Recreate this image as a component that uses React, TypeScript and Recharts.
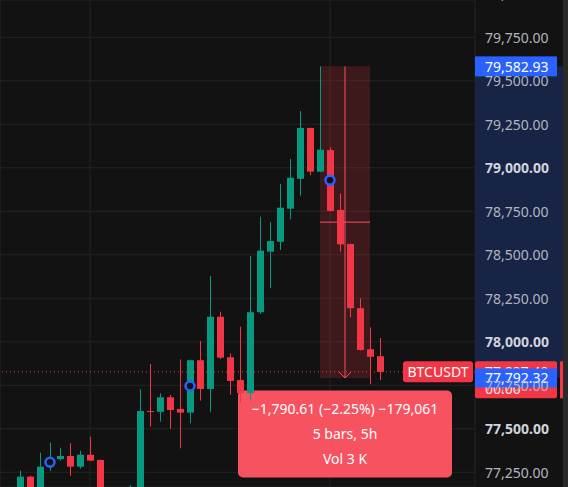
import React from 'react';
import {
  ComposedChart,
  Bar,
  XAxis,
  YAxis,
  CartesianGrid,
  ReferenceLine,
  ReferenceArea,
  ReferenceDot,
} from 'recharts';

// ---------- data ----------
const OPEN = [
  77120, 77225, 77115, 77310, 77326, 77344, 77282, 77351, 77321, 77110,
  77140, 77100, 77150, 77602, 77598, 77681, 77614, 77593, 77894, 77729,
  78144, 77911, 77780, 77705, 78170, 78518, 78575, 78765, 78937, 79229,
  78978, 79102, 78758, 78562, 78193, 77957, 77917,
];
const HIGH = [
  77259, 77230, 77363, 77420, 77391, 77417, 77374, 77455, 77323, 77158,
  77160, 77177, 77727, 77872, 77704, 77694, 77899, 77895, 78005, 78378,
  78173, 77933, 78087, 78493, 78719, 78687, 78907, 79051, 79326, 79231,
  79582.93, 79118, 78853, 78565, 78250, 78083, 78022,
];
const LOW = [
  77070, 77060, 77090, 77258, 77317, 77230, 77271, 77315, 77080, 77040,
  77050, 77080, 77120, 77512, 77541, 77499, 77388, 77532, 77662, 77598,
  77901, 77696, 77650, 77660, 78160, 78308, 78528, 78704, 78840, 78957,
  78975, 78750, 78518, 78141, 77949, 77756, 77780,
];
const CLOSE = [
  77225, 77110, 77282, 77318, 77344, 77282, 77351, 77317, 77120, 77140,
  77100, 77150, 77602, 77598, 77681, 77608, 77593, 77894, 77729, 78144,
  77909, 77775, 77705, 78170, 78524, 78579, 78771, 78943, 79229, 78978,
  79104, 78752, 78560, 78193, 77953, 77914, 77827.4,
];

const PRICE_TICKS = [
  77250, 77500, 77750, 78000, 78250, 78500, 78750, 79000, 79250, 79500, 79750, 80000,
];
const BOLD_TICKS = [77500, 78000, 79000];
const DAY_TICKS = [7, 31];

const MARKER_X = [3, 17, 31];
const MARKER_Y = [77307.5, 77746, 78928];

const MEASURE_FROM = 30;
const MEASURE_TO = 35;
const MEASURE_START = 79582.93;
const MEASURE_END = 77792.32;
const MEASURE_LINES = ['\u22121,790.61 (\u22122.25%) \u2212179,061', '5 bars, 5h', 'Vol 3 K'];

const LAST_PRICE = 77827.4;
const SYMBOL = 'BTCUSDT';
const COUNTDOWN = '00:00';

const X_DOMAIN: [number, number] = [-2, 45.5];
const Y_DOMAIN: [number, number] = [77165.5, 79964.4];

// ---------- style ----------
const BG = '#121212';
const GRID = '#242424';
const UP = '#089981';
const DOWN = '#f23645';
const BLUE = '#2962ff';
const TIP = '#f7525f';
const FONT = '"Noto Sans", Roboto, sans-serif';
const W = 568;
const H = 487;
const AXIS_W = 93;

const data = OPEN.map((o, i) => ({
  i,
  open: o,
  high: HIGH[i],
  low: LOW[i],
  close: CLOSE[i],
  range: [LOW[i], HIGH[i]],
}));

const fmt = (v: number) =>
  v.toLocaleString('en-US', { minimumFractionDigits: 2, maximumFractionDigits: 2 });

const Candle = (props: any) => {
  const { x, y, width, height, payload } = props;
  if (!payload) return null;
  const top = height >= 0 ? y : y + height;
  const h = Math.abs(height);
  const span = payload.high - payload.low;
  const k = span > 0 ? h / span : 0;
  const py = (v: number) => top + (payload.high - v) * k;
  const color = payload.close >= payload.open ? UP : DOWN;
  const cx = x + width / 2;
  const b1 = py(Math.max(payload.open, payload.close));
  const b2 = py(Math.min(payload.open, payload.close));
  return (
    <g>
      <line x1={cx} x2={cx} y1={top} y2={top + h} stroke={color} strokeWidth={1} />
      <rect x={x} y={b1} width={width} height={Math.max(b2 - b1, 1)} fill={color} />
    </g>
  );
};

const PriceTick = (props: any) => {
  const { x, y, payload } = props;
  const bold = BOLD_TICKS.includes(payload.value);
  return (
    <text
      x={x}
      y={y}
      textAnchor="start"
      dominantBaseline="central"
      fontFamily={FONT}
      fontSize={14}
      fontWeight={bold ? 700 : 400}
      fill={bold ? '#d1d4dc' : '#b2b5be'}
    >
      {fmt(payload.value)}
    </text>
  );
};

const AxisBand = (props: any) => {
  const { x, y, width, height } = props;
  return <rect x={x + width} y={y} width={AXIS_W - 5} height={height} fill="#172446" />;
};

const BlueTag = (value: number, h: number) => (props: any) => {
  const { viewBox } = props;
  const right = viewBox.x + viewBox.width;
  const y = viewBox.y;
  return (
    <g>
      <rect x={right} y={y - h / 2} width={82} height={h} fill={BLUE} />
      <text
        x={right + 10}
        y={y}
        dominantBaseline="central"
        fontFamily={FONT}
        fontSize={14}
        fill="#ffffff"
      >
        {fmt(value)}
      </text>
    </g>
  );
};

const LastTag = (props: any) => {
  const { viewBox } = props;
  const right = viewBox.x + viewBox.width;
  const y = viewBox.y;
  return (
    <g>
      <rect x={right - 72} y={y - 10.5} width={70} height={21} rx={3} fill={DOWN} />
      <text
        x={right - 37}
        y={y}
        textAnchor="middle"
        dominantBaseline="central"
        fontFamily={FONT}
        fontSize={14}
        fill="#ffffff"
      >
        {SYMBOL}
      </text>
      <rect x={right} y={y - 10.5} width={82} height={37} rx={2} fill={DOWN} />
      <text x={right + 10} y={y} dominantBaseline="central" fontFamily={FONT} fontSize={14} fill="#ffffff">
        {fmt(LAST_PRICE)}
      </text>
      <text x={right + 10} y={y + 17} dominantBaseline="central" fontFamily={FONT} fontSize={14} fill="#ffe4e6">
        {COUNTDOWN}
      </text>
      <rect x={right + 85} y={y - 10.5} width={3} height={37} fill={DOWN} />
    </g>
  );
};

const MeasureOverlay = (props: any) => {
  const { viewBox } = props;
  const { x, y, width, height } = viewBox;
  const cx = x + width / 2;
  const bottom = y + height;
  const mid = y + height / 2;
  const tipW = 214;
  const tipH = 87;
  const tipY = bottom + 12.5;
  return (
    <g>
      <line x1={cx} x2={cx} y1={y} y2={bottom} stroke={TIP} strokeWidth={1} />
      <line x1={x} x2={x + width} y1={mid} y2={mid} stroke={TIP} strokeWidth={1} />
      <polyline
        points={`${cx - 6},${bottom - 6} ${cx},${bottom} ${cx + 6},${bottom - 6}`}
        fill="none"
        stroke={TIP}
        strokeWidth={1}
      />
      <rect x={cx - tipW / 2} y={tipY} width={tipW} height={tipH} rx={5} fill={TIP} />
      {MEASURE_LINES.map((t, k) => (
        <text
          key={k}
          x={cx}
          y={tipY + 18.5 + k * 25}
          textAnchor="middle"
          dominantBaseline="central"
          fontFamily={FONT}
          fontSize={14}
          fill="#ffffff"
        >
          {t}
        </text>
      ))}
    </g>
  );
};

export default function App() {
  return (
    <div style={{ position: 'absolute', left: 0, top: 0, width: W, height: H, background: BG, overflow: 'hidden' }}>
      <ComposedChart width={W} height={H} data={data} margin={{ top: 0, right: 0, bottom: 0, left: 0 }}>
        <CartesianGrid stroke={GRID} strokeWidth={1} />
        <XAxis dataKey="i" type="number" domain={X_DOMAIN} ticks={DAY_TICKS} allowDataOverflow hide />
        <ReferenceArea
          y1={MEASURE_END}
          y2={MEASURE_START}
          shape={AxisBand}
          ifOverflow="visible"
        />
        <YAxis
          orientation="right"
          width={AXIS_W}
          domain={Y_DOMAIN}
          ticks={PRICE_TICKS}
          interval={0}
          allowDataOverflow
          axisLine={false}
          tickLine={false}
          tickSize={6}
          tickMargin={4}
          tick={<PriceTick />}
        />
        <ReferenceArea
          x1={MEASURE_FROM}
          x2={MEASURE_TO}
          y1={MEASURE_END}
          y2={MEASURE_START}
          fill={DOWN}
          fillOpacity={0.2}
          stroke="none"
        />
        <ReferenceLine y={LAST_PRICE} stroke={DOWN} strokeDasharray="1 3" strokeWidth={1} label={LastTag} />
        <Bar dataKey="range" barSize={7} shape={<Candle />} isAnimationActive={false} />
        {MARKER_X.map((mx, k) => (
          <ReferenceDot key={k} x={mx} y={MARKER_Y[k]} r={4.5} fill={BG} stroke={BLUE} strokeWidth={2.5} />
        ))}
        <ReferenceLine y={MEASURE_START} stroke="none" strokeOpacity={0} label={BlueTag(MEASURE_START, 20)} />
        <ReferenceLine y={MEASURE_END} stroke="none" strokeOpacity={0} label={BlueTag(MEASURE_END, 19)} />
        <ReferenceArea
          x1={MEASURE_FROM}
          x2={MEASURE_TO}
          y1={MEASURE_END}
          y2={MEASURE_START}
          fill="none"
          fillOpacity={0}
          stroke="none"
          label={MeasureOverlay}
        />
      </ComposedChart>
      <div style={{ position: 'absolute', left: 563, top: 0, width: 5, height: H, background: '#2a2a2a' }} />
    </div>
  );
}
